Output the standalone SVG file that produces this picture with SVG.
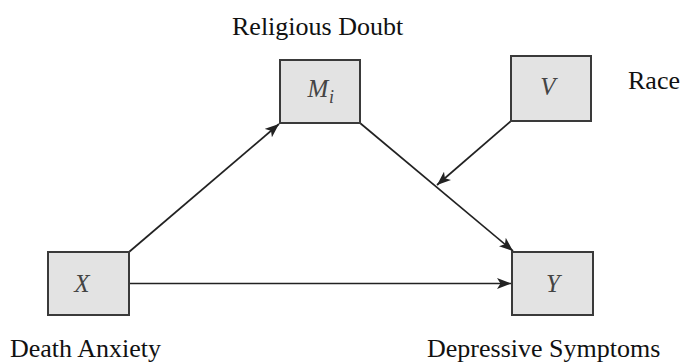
<svg xmlns="http://www.w3.org/2000/svg" width="681" height="363" viewBox="0 0 681 363">
<defs>
<marker id="ah" viewBox="0 0 14 11" refX="14" refY="5.5" markerWidth="14" markerHeight="11" markerUnits="userSpaceOnUse" orient="auto">
<path d="M0,0 L14,5.5 L0,11 L3.5,5.5 Z" fill="#222"/>
</marker>
</defs>
<style>
.box{fill:#e3e3e3;stroke:#3a3a3a;stroke-width:2}
.var{font-family:"Liberation Serif",serif;font-style:italic;font-size:25px;fill:#444;text-anchor:middle}
.sub{font-family:"Liberation Serif",serif;font-style:italic;font-size:18px;fill:#444}
.lab{font-family:"Liberation Serif",serif;font-size:26px;fill:#111}
.edge{stroke:#222;stroke-width:1.7;fill:none;marker-end:url(#ah)}
</style>
<rect width="681" height="363" fill="#fff"/>
<g id="connectors">
<line class="edge" x1="129" y1="252" x2="279" y2="124"/>
<line class="edge" x1="129" y1="283.5" x2="511" y2="283.5"/>
<line class="edge" x1="360" y1="123" x2="513" y2="251"/>
<line class="edge" x1="511" y1="121" x2="437" y2="185"/>
</g>
<g id="node-M">
<rect class="box" x="280" y="60" width="80" height="63"/>
<text class="var" x="318" y="97">M</text>
<text class="sub" x="329" y="103">i</text>
</g>
<g id="node-V">
<rect class="box" x="511" y="56" width="80" height="65"/>
<text class="var" x="548" y="95">V</text>
</g>
<g id="node-X">
<rect class="box" x="48" y="252" width="81" height="63"/>
<text class="var" x="82" y="292">X</text>
</g>
<g id="node-Y">
<rect class="box" x="512" y="252" width="81" height="63"/>
<text class="var" x="553" y="292">Y</text>
</g>
<g id="labels">
<text class="lab" x="232" y="35">Religious Doubt</text>
<text class="lab" x="628" y="89">Race</text>
<text class="lab" x="10" y="357">Death Anxiety</text>
<text class="lab" x="427" y="357">Depressive Symptoms</text>
</g>
</svg>
